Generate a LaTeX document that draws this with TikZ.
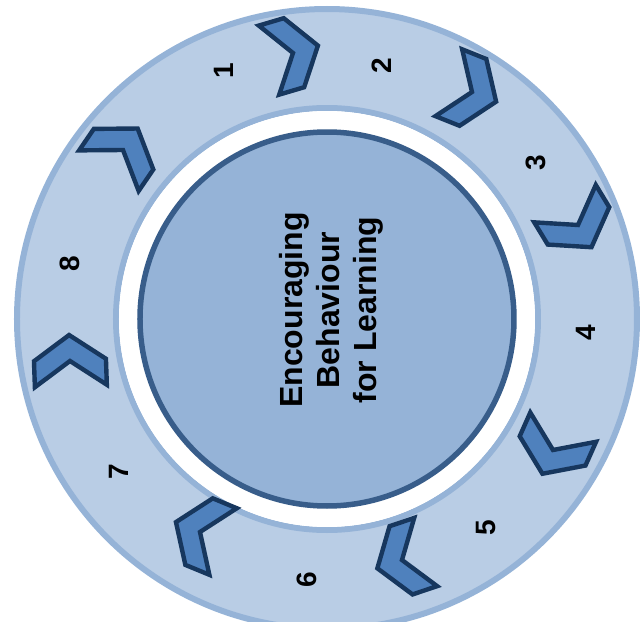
\documentclass[tikz,border=0pt]{standalone}
\usepackage{fontspec}
\setmainfont{Liberation Sans}
\definecolor{ringfill}{HTML}{B9CDE5}
\definecolor{ringline}{HTML}{95B3D7}
\definecolor{corefill}{HTML}{95B3D7}
\definecolor{coreline}{HTML}{385D8A}
\definecolor{chevfill}{HTML}{4F81BD}
\definecolor{chevline}{HTML}{17375E}
\tikzset{
  ringedge/.style={draw=ringline, line width=6pt},
  chevbox/.style={fill=chevfill, draw=chevline, line width=4.4pt, line join=miter},
  numlabel/.style={font=\fontsize{28}{32}\selectfont\bfseries, rotate=90, inner sep=0pt},
  corelabel/.style={font=\fontsize{32}{37}\selectfont\bfseries, rotate=90, align=center, inner sep=0pt}
}
\begin{document}
\begin{tikzpicture}[x=1pt, y=1pt]
  \useasboundingbox (-327,-303) rectangle (314,319);
  \clip (-327,-303) rectangle (314,319);
  % outer ring band
  \fill[ringfill] (0,0) circle (311);
  \draw[ringedge] (0,0) circle (310);
  \fill[white] (0,0) circle (211);
  \draw[ringedge] (0,0) circle (211);
  \fill[white] (0,0) circle (208);
  % central disc
  \node[circle, minimum size=374pt, fill=corefill, draw=coreline, line width=5.5pt] (core) at (0,0) {};
  \node[corelabel] (title) at (4,9) {Encouraging\\Behaviour\\for Learning};
  % chevrons around the ring (inner apex position / heading)
  \foreach \cx/\cy/\ang in {-34/266/16.5, 145/227/-21.8, 251/94/-58.7, 226/-131/-114,
                            75/-241/-161.4, -127/-213/157.6, -257/-42/92, -204/169/55.7}
    \draw[chevbox, shift={(\cx,\cy)}, rotate=\ang]
      (0,0) -- (-25,36) -- (1,36) -- (26,0) -- (1,-36) -- (-25,-36) -- cycle;
  % step numbers
  \foreach \nx/\ny/\num in {-103/248.4/1, 55/253.5/2, 208.6/156.3/3, 258.4/-13.5/4,
                            159.5/-208.8/5, -20.4/-261/6, -208.4/-153/7, -256.7/55.1/8}
    \node[numlabel] (n\num) at (\nx,\ny) {\num};
\end{tikzpicture}
\end{document}
